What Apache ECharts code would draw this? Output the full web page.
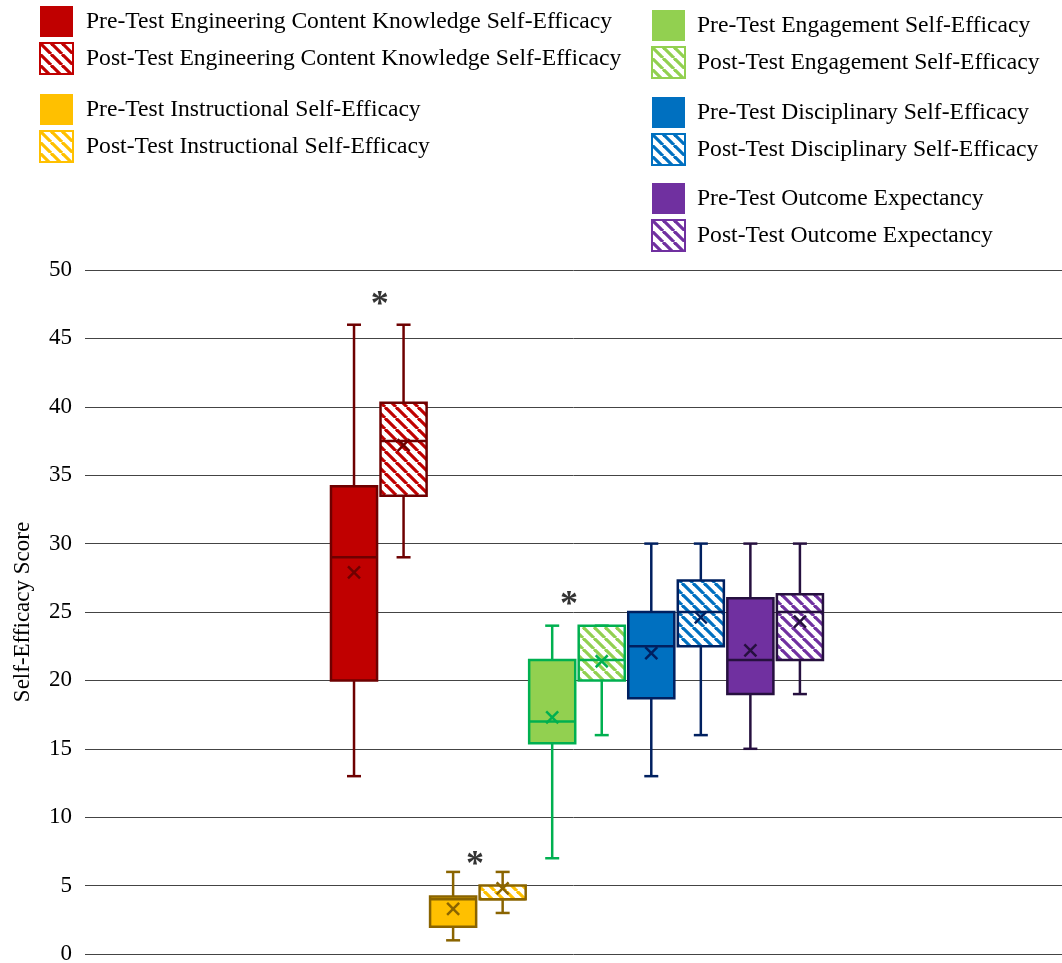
<!DOCTYPE html>
<html>
<head>
<meta charset="utf-8">
<script src="https://cdn.jsdelivr.net/npm/echarts@6/dist/echarts.min.js"></script>
<style>
html,body{margin:0;padding:0;background:#fff;}
#chart{width:1062px;height:963px;}
</style>
</head>
<body>
<div id="chart"></div>
<script>
// ---- data ----
const seriesNames = [
  'Pre-Test Engineering Content Knowledge Self-Efficacy',
  'Post-Test Engineering Content Knowledge Self-Efficacy',
  'Pre-Test Instructional Self-Efficacy',
  'Post-Test Instructional Self-Efficacy',
  'Pre-Test Engagement Self-Efficacy',
  'Post-Test Engagement Self-Efficacy',
  'Pre-Test Disciplinary Self-Efficacy',
  'Post-Test Disciplinary Self-Efficacy',
  'Pre-Test Outcome Expectancy',
  'Post-Test Outcome Expectancy'
];
const minVals    = [13, 29, 1, 3, 7, 16, 13, 16, 15, 19];
const q1Vals     = [20, 33.5, 2, 4, 15.4, 20, 18.7, 22.5, 19, 21.5];
const medianVals = [29, 37.5, 4, 4, 17, 21.5, 22.5, 25, 21.5, 25];
const q3Vals     = [34.2, 40.3, 4.2, 5, 21.5, 24, 25, 27.3, 26, 26.3];
const maxVals    = [46, 46, 6, 6, 24, 24, 30, 30, 30, 30];
const meanVals   = [27.9, 37.2, 3.3, 4.8, 17.3, 21.4, 22.0, 24.6, 22.2, 24.3];
const yTicks = [0, 5, 10, 15, 20, 25, 30, 35, 40, 45, 50];
// significance markers between pre/post pairs
const starX = [0.52, 2.44, 4.34];
const starY = [47.9, 7.0, 26.0];

// ---- styles ----
const fillColors   = ['#C00000','#C00000','#FFC000','#FFC000','#92D050','#92D050','#0070C0','#0070C0','#7030A0','#7030A0'];
const borderColors = ['#6E0000','#6E0000','#8A6400','#8A6400','#00B050','#00B050','#002060','#002060','#26103F','#26103F'];
const hatched      = [false,true,false,true,false,true,false,true,false,true];

function makePattern(color){
  const c = document.createElement('canvas');
  const s = 11;
  c.width = s; c.height = s;
  const ctx = c.getContext('2d');
  ctx.fillStyle = '#fff';
  ctx.fillRect(0,0,s,s);
  ctx.strokeStyle = color;
  ctx.lineWidth = 3.2;
  [-s, 0, s].forEach(function(x0){
    ctx.beginPath();
    ctx.moveTo(x0, 0);
    ctx.lineTo(x0 + s, s);
    ctx.stroke();
  });
  return {image: c, repeat: 'repeat'};
}

const fills = fillColors.map(function(c, i){ return hatched[i] ? makePattern(c) : c; });

function renderBox(params, api){
  const idx = params.seriesIndex;
  const x = api.value(0);
  const px = function(v){ return api.coord([x, v]); };
  const cx = px(0)[0];
  const yMin = px(api.value(1))[1];
  const yQ1 = px(api.value(2))[1];
  const yMed = px(api.value(3))[1];
  const yQ3 = px(api.value(4))[1];
  const yMax = px(api.value(5))[1];
  const yMean = px(api.value(6))[1];
  const w = api.size([1, 0])[0] * 0.93;
  const cap = 7;
  const m = 6;
  const bc = borderColors[idx];
  const lw = 2.5;
  const line = function(x1,y1,x2,y2){
    return {type:'line', shape:{x1:x1,y1:y1,x2:x2,y2:y2}, style:{stroke:bc, lineWidth:lw}};
  };
  return {
    type:'group',
    children:[
      line(cx, yMax, cx, yQ3),
      line(cx, yQ1, cx, yMin),
      line(cx-cap, yMax, cx+cap, yMax),
      line(cx-cap, yMin, cx+cap, yMin),
      {type:'rect', shape:{x:cx-w/2, y:yQ3, width:w, height:yQ1-yQ3},
       style:{fill:fills[idx], stroke:bc, lineWidth:lw}},
      line(cx-w/2, yMed, cx+w/2, yMed),
      line(cx-m, yMean-m, cx+m, yMean+m),
      line(cx-m, yMean+m, cx+m, yMean-m)
    ]
  };
}

const series = seriesNames.map(function(name, i){
  return {
    type:'custom',
    name:name,
    renderItem: renderBox,
    itemStyle:{color: fills[i], borderColor: borderColors[i]},
    encode:{x:0, y:[1,2,3,4,5,6]},
    data:[[i, minVals[i], q1Vals[i], medianVals[i], q3Vals[i], maxVals[i], meanVals[i]]],
    silent:true,
    animation:false
  };
});
series.push({
  type:'scatter',
  name:'sig',
  symbolSize:0,
  data: starX.map(function(x, i){ return [x, starY[i]]; }),
  label:{show:true, formatter:'*', position:'inside', fontSize:36, fontWeight:'bold', color:'#000',
         fontFamily:'Liberation Serif', offset:[0,7]},
  silent:true,
  animation:false
});

function legendItems(ids){
  return ids.map(function(i){
    return {name: seriesNames[i], icon:'rect',
      itemStyle: hatched[i] ? {color: fills[i], borderColor: fillColors[i], borderWidth: 2}
                            : {color: fillColors[i], borderWidth: 0}};
  });
}
function makeLegend(ids, left, top, pad){
  return {
    orient:'vertical', left:left, top:top, itemWidth:33, itemHeight:31, itemGap:5,
    selectedMode:false, padding:0,
    textStyle:{fontSize:23.6, color:'#000', fontFamily:'Liberation Serif', padding:[0,0,0,pad]},
    data: legendItems(ids)
  };
}

const chart = echarts.init(document.getElementById('chart'), null, {renderer:'canvas'});
chart.setOption({
  backgroundColor:'#fff',
  animation:false,
  legend:[
    makeLegend([0,1], 39, 6, 8),
    makeLegend([2,3], 39, 94, 8),
    makeLegend([4,5], 651, 10, 7),
    makeLegend([6,7], 651, 97, 7),
    makeLegend([8,9], 651, 183, 7)
  ],
  grid:{left:85, right:0, top:270, bottom:9, containLabel:false, outerBoundsMode:'none'},
  xAxis:{type:'value', min:-5.43, max:14.29, show:false},
  yAxis:{
    type:'value', min:yTicks[0], max:yTicks[yTicks.length-1], interval:5,
    name:'Self-Efficacy Score', nameLocation:'middle', nameRotate:90, nameGap:51,
    nameTextStyle:{fontSize:23, color:'#000', fontFamily:'Liberation Serif'},
    axisLine:{show:false}, axisTick:{show:false},
    axisLabel:{fontSize:23, color:'#000', fontFamily:'Liberation Serif', margin:13},
    splitLine:{show:true, lineStyle:{color:'#444', width:1}}
  },
  series:series
});
</script>
</body>
</html>
